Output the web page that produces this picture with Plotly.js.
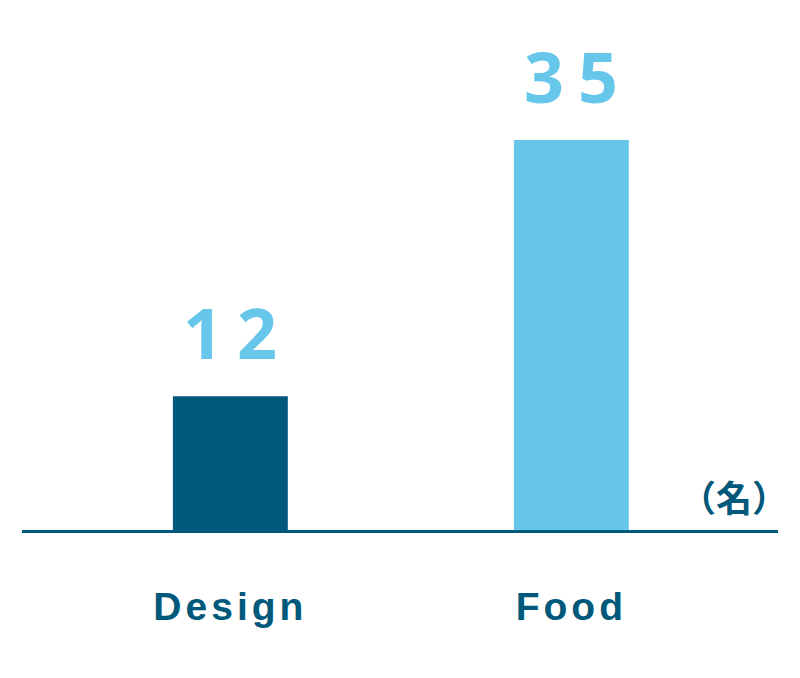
<!DOCTYPE html>
<html>
<head>
<meta charset="utf-8">
<script src="https://cdn.plot.ly/plotly-3.0.1.min.js"></script>
<style>
  html, body { margin: 0; padding: 0; background: #fff; }
  #chart { width: 800px; height: 678px; }
  .annotation-text.num { letter-spacing: 14px; }
  .xtick text { letter-spacing: 4px; }
</style>
</head>
<body>
<div id="chart"></div>
<script>
const categories = ["Design", "Food"];
const values = [12, 35];
const barColors = ["#00587B", "#66C7EB"];
const unitLabel = "（名）";

const DARK = "#00587B";
const LIGHT = "#66C7EB";

const trace = {
  type: "bar",
  x: categories,
  y: values,
  marker: { color: barColors, line: { width: 0 } },
  width: 0.337,
  hoverinfo: "x+y"
};

const annotations = categories.map((c, i) => ({
  x: c, y: values[i], xref: "x", yref: "y",
  text: String(values[i]),
  showarrow: false,
  xanchor: "center", yanchor: "bottom",
  yshift: 14, xshift: 7,
  font: { family: "Noto Sans, DejaVu Sans, sans-serif", size: 70, color: LIGHT, weight: 700 }
}));
annotations.push({
  xref: "paper", yref: "paper", x: 1, y: 0,
  xanchor: "right", yanchor: "bottom", yshift: 6, xshift: 12,
  text: unitLabel, showarrow: false,
  font: { family: "Noto Sans CJK JP, sans-serif", size: 36, color: DARK, weight: 700 }
});

const layout = {
  width: 800, height: 678,
  margin: { l: 22, r: 22, t: 20, b: 148 },
  paper_bgcolor: "#fff", plot_bgcolor: "#fff",
  showlegend: false,
  xaxis: {
    type: "category",
    range: [-0.611, 1.606],
    showline: true, linecolor: DARK, linewidth: 3,
    showgrid: false, zeroline: false, ticks: "",
    ticklabelstandoff: 40,
    tickfont: { family: "Liberation Sans, Arial, sans-serif", size: 39, color: DARK, weight: 700 }
  },
  yaxis: {
    range: [0, 35 * 510 / 390],
    visible: false, showgrid: false, zeroline: false, fixedrange: true
  },
  annotations: annotations
};

Plotly.newPlot("chart", [trace], layout, { displayModeBar: false, staticPlot: true }).then(() => {
  document.querySelectorAll(".annotation-text").forEach((t, i) => {
    if (i < categories.length) t.classList.add("num");
  });
});
</script>
</body>
</html>
